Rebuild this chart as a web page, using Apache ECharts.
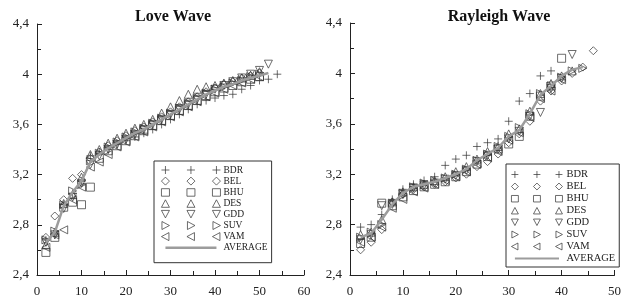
<!DOCTYPE html>
<html>
<head>
<meta charset="utf-8">
<script src="https://cdn.jsdelivr.net/npm/echarts@6/dist/echarts.min.js"></script>
<style>
  html, body { margin: 0; padding: 0; background: #fff; }
  #chart { width: 624px; height: 300px; }
</style>
</head>
<body>
<div id="chart"></div>
<script>
// stations and periods
const stations = ['BDR', 'BEL', 'BHU', 'DES', 'GDD', 'SUV', 'VAM'];

const lovePeriods = [2, 4, 6, 8, 10, 12, 14, 16, 18, 20, 22, 24, 26, 28, 30, 32, 34, 36, 38, 40, 42, 44, 46, 48, 50, 52, 54];
const loveAvg = [2.66, 2.74, 2.95, 3.06, 3.15, 3.3, 3.36, 3.41, 3.45, 3.49, 3.53, 3.56, 3.6, 3.64, 3.68, 3.72, 3.76, 3.8, 3.84, 3.87, 3.9, 3.92, 3.95, 3.97, 3.99, 4.01, null];
const loveBDR = [2.68, 2.72, 2.96, 3.05, 3.15, 3.35, 3.38, 3.4, 3.44, 3.47, 3.5, 3.53, 3.56, 3.6, 3.64, 3.68, 3.72, 3.76, 3.79, 3.81, 3.83, 3.84, 3.88, 3.91, 3.95, 3.96, 4.0];
const loveBEL = [2.7, 2.87, 3.0, 3.17, 3.2, 3.33, 3.38, 3.43, 3.47, 3.51, 3.55, 3.58, 3.62, 3.66, 3.7, 3.74, 3.78, 3.82, 3.86, 3.89, 3.92, 3.94, 3.97, 3.99, 4.01, null, null];
const loveBHU = [2.58, 2.7, 2.94, 2.98, 2.96, 3.1, 3.33, 3.39, 3.43, 3.47, 3.51, 3.55, 3.59, 3.63, 3.67, 3.71, 3.75, 3.79, 3.83, 3.86, 3.89, 3.91, 3.94, 3.96, 3.98, null, null];
const loveDES = [2.64, 2.74, 2.97, 3.04, 3.18, 3.36, 3.4, 3.45, 3.49, 3.53, 3.57, 3.6, 3.64, 3.69, 3.74, 3.79, 3.84, 3.88, 3.9, 3.91, 3.93, 3.95, 3.97, 3.99, 4.02, null, null];
const loveGDD = [2.66, 2.72, 2.93, 3.02, 3.13, 3.28, 3.35, 3.4, 3.44, 3.48, 3.52, 3.56, 3.6, 3.64, 3.68, 3.72, 3.76, 3.8, 3.84, 3.88, 3.91, 3.94, 3.97, 4.0, 4.03, 4.08, null];
const loveSUV = [2.68, 2.75, 2.96, 3.07, 3.12, 3.31, 3.37, 3.42, 3.46, 3.5, 3.54, 3.57, 3.61, 3.65, 3.69, 3.73, 3.77, 3.81, 3.85, 3.88, 3.9, 3.93, 3.95, 3.98, 4.0, null, null];
const loveVAM = [2.62, 2.72, 2.76, 3.0, 3.1, 3.26, 3.3, 3.36, 3.42, 3.46, 3.5, 3.54, 3.58, 3.62, 3.66, 3.7, 3.74, 3.78, 3.82, 3.85, 3.88, 3.91, 3.93, 3.96, 3.98, null, null];

const rayPeriods = [2, 4, 6, 8, 10, 12, 14, 16, 18, 20, 22, 24, 26, 28, 30, 32, 34, 36, 38, 40, 42, 44, 46];
const rayAvg = [2.7, 2.73, 2.84, 2.96, 3.05, 3.1, 3.12, 3.14, 3.17, 3.2, 3.24, 3.31, 3.36, 3.41, 3.5, 3.55, 3.68, 3.83, 3.9, 3.98, 4.03, 4.05, null];
const rayBDR = [2.78, 2.8, 2.88, 3.0, 3.08, 3.12, 3.15, 3.18, 3.27, 3.32, 3.35, 3.42, 3.45, 3.48, 3.62, 3.78, 3.84, 3.98, 4.02, null, null, null, null];
const rayBEL = [2.6, 2.66, 2.76, 2.98, 3.04, 3.08, 3.1, 3.12, 3.14, 3.17, 3.2, 3.26, 3.3, 3.36, 3.45, 3.52, 3.62, 3.78, 3.86, 3.94, 4.0, 4.05, 4.18];
const rayBHU = [2.65, 2.7, 2.97, 2.95, 3.02, 3.07, 3.1, 3.12, 3.14, 3.18, 3.22, 3.28, 3.34, 3.4, 3.44, 3.5, 3.66, 3.82, 3.9, 4.12, null, null, null];
const rayDES = [2.72, 2.74, 2.84, 2.98, 3.06, 3.1, 3.12, 3.15, 3.18, 3.22, 3.26, 3.32, 3.38, 3.42, 3.52, 3.56, 3.7, 3.84, 3.92, 3.98, 4.02, null, null];
const rayGDD = [2.68, 2.72, 2.95, 2.96, 3.04, 3.09, 3.11, 3.13, 3.16, 3.19, 3.23, 3.3, 3.35, 3.4, 3.48, 3.54, 3.66, 3.69, 3.88, 3.96, 4.15, null, null];
const raySUV = [2.7, 2.74, 2.8, 2.97, 3.05, 3.1, 3.13, 3.15, 3.17, 3.2, 3.24, 3.31, 3.36, 3.42, 3.5, 3.57, 3.68, 3.84, 3.9, 3.97, 4.02, 4.04, null];
const rayVAM = [2.66, 2.7, 2.78, 2.93, 3.0, 3.06, 3.09, 3.12, 3.15, 3.18, 3.22, 3.28, 3.33, 3.38, 3.47, 3.53, 3.65, 3.8, 3.86, 3.95, null, null, null];

const loveData = [loveBDR, loveBEL, loveBHU, loveDES, loveGDD, loveSUV, loveVAM];
const rayData = [rayBDR, rayBEL, rayBHU, rayDES, rayGDD, raySUV, rayVAM];

// marker shapes
const symbols = [
    'path://M0,4L8,4M4,0L4,8',
    'path://M4,0L8,4L4,8L0,4Z',
    'path://M0,0H8V8H0Z',
    'path://M0,8L4,0L8,8Z',
    'path://M0,0L8,0L4,8Z',
    'path://M0,0L8,4L0,8Z',
    'path://M8,0L0,4L8,8Z'
];
// legend icons: three copies of each marker
const centers = [4, 29.5, 55];
function tri(fn) {
    return 'path://M0,0M59,8' + centers.map(fn).join('');
}
const legendIcons = [
    tri(c => `M${c - 4},4L${c + 4},4M${c},0L${c},8`),
    tri(c => `M${c},0L${c + 4},4L${c},8L${c - 4},4Z`),
    tri(c => `M${c - 4},0.5H${c + 4}V8H${c - 4}Z`),
    tri(c => `M${c - 4},8L${c},0.5L${c + 4},8Z`),
    tri(c => `M${c - 4},0L${c + 4},0L${c},7.5Z`),
    tri(c => `M${c - 3.5},0L${c + 4},4L${c - 3.5},8Z`),
    tri(c => `M${c + 3.5},0L${c - 4},4L${c + 3.5},8Z`)
];
const avgIcon = 'path://M0,0M59,8M4,2.7H55V5.3H4Z';
const markColor = '#333';
const avgColor = '#9c9c9c';
const serif = 'Liberation Serif';

function pairs(xs, ys) {
    const out = [];
    ys.forEach((v, i) => { if (v != null) out.push([xs[i], v]); });
    return out;
}

const series = [];
[[lovePeriods, loveData, loveAvg, 0], [rayPeriods, rayData, rayAvg, 1]].forEach(([xs, data, avg, k]) => {
    data.forEach((ys, i) => {
        series.push({
            name: stations[i],
            type: 'scatter',
            xAxisIndex: k,
            yAxisIndex: k,
            symbol: symbols[i],
            symbolSize: 8,
            itemStyle: { color: 'rgba(0,0,0,0)', borderColor: markColor, borderWidth: 0.9 },
            data: pairs(xs, ys)
        });
    });
    series.push({
        name: 'AVERAGE',
        type: 'line',
        xAxisIndex: k,
        yAxisIndex: k,
        showSymbol: false,
        z: 3,
        lineStyle: { color: avgColor, width: 2.5 },
        itemStyle: { color: avgColor },
        data: pairs(xs, avg)
    });
});

function legendData() {
    const items = stations.map((s, i) => ({
        name: s,
        icon: legendIcons[i],
        itemStyle: { color: 'rgba(0,0,0,0)', borderColor: markColor, borderWidth: 0.9 }
    }));
    items.push({ name: 'AVERAGE', icon: avgIcon, itemStyle: { color: avgColor, borderWidth: 0 } });
    return items;
}

function yAxis(k) {
    return {
        type: 'value', gridIndex: k, min: 2.4, max: 4.4, interval: 0.4,
        axisLine: { show: true, lineStyle: { color: '#222', width: 1 } },
        axisTick: { show: true, inside: true, length: 5, lineStyle: { color: '#222' } },
        minorTick: { show: true, splitNumber: 2, length: 4, lineStyle: { color: '#222' } },
        splitLine: { show: false },
        axisLabel: {
            color: '#222', fontFamily: serif, fontSize: 13, margin: 8,
            formatter: v => String(+v.toFixed(1)).replace('.', ',')
        }
    };
}
function xAxis(k, max) {
    return {
        type: 'value', gridIndex: k, min: 0, max: max, interval: 10,
        axisLine: { show: true, onZero: false, lineStyle: { color: '#222', width: 1 } },
        axisTick: { show: true, inside: true, length: 5, lineStyle: { color: '#222' } },
        minorTick: { show: true, splitNumber: 2, length: 4, lineStyle: { color: '#222' } },
        splitLine: { show: false },
        axisLabel: { color: '#222', fontFamily: serif, fontSize: 13, margin: 10 }
    };
}

const option = {
    animation: false,
    backgroundColor: '#fff',
    title: [
        { text: 'Love Wave', left: 168, top: 4, textAlign: 'center',
          textStyle: { fontFamily: serif, fontWeight: 'bold', fontSize: 16, color: '#111' } },
        { text: 'Rayleigh Wave', left: 494, top: 4, textAlign: 'center',
          textStyle: { fontFamily: serif, fontWeight: 'bold', fontSize: 16, color: '#111' } }
    ],
    grid: [
        { left: 37, right: 320, top: 24, bottom: 25 },
        { left: 350, right: 8, top: 23, bottom: 25 }
    ],
    xAxis: [xAxis(0, 60), xAxis(1, 50)],
    yAxis: [yAxis(0), yAxis(1)],
    legend: [
        {
            orient: 'vertical', left: 154, top: 161, selectedMode: false,
            padding: [4, 4, 10, 7], itemWidth: 59, itemHeight: 8, itemGap: 1.1,
            borderColor: '#333', borderWidth: 1, backgroundColor: '#fff',
            textStyle: { fontFamily: serif, fontSize: 9.5, lineHeight: 9, color: '#222', padding: [0, 0, 0, -2] },
            data: legendData()
        },
        {
            orient: 'vertical', left: 506, top: 164, selectedMode: false,
            padding: [5, 4, 3, 5], itemWidth: 51, itemHeight: 7, itemGap: 1,
            borderColor: '#333', borderWidth: 1, backgroundColor: '#fff',
            textStyle: { fontFamily: serif, fontSize: 10.5, lineHeight: 10, color: '#222', padding: [0, 0, 0, -1] },
            data: legendData()
        }
    ],
    series: series
};

const chart = echarts.init(document.getElementById('chart'));
chart.setOption(option);
</script>
</body>
</html>
